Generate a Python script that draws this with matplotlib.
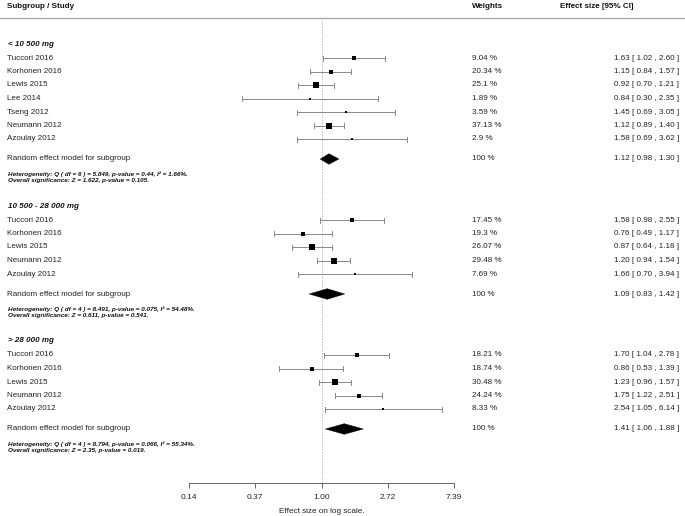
import numpy as np
import matplotlib
matplotlib.use("Agg")
import matplotlib.pyplot as plt
from matplotlib.transforms import blended_transform_factory
from matplotlib.patches import Polygon

plt.rcParams['font.family'] = ['Liberation Sans', 'DejaVu Sans']

# ---------------- data ----------------
group_labels = ["< 10 500 mg", "10 500 - 28 000 mg", "> 28 000 mg"]

studies_g1 = ["Tuccori 2016", "Korhonen 2016", "Lewis 2015", "Lee 2014",
              "Tseng 2012", "Neumann 2012", "Azoulay 2012"]
est_g1 = [1.63, 1.15, 0.92, 0.84, 1.45, 1.12, 1.58]
lo_g1 = [1.02, 0.84, 0.70, 0.30, 0.69, 0.89, 0.69]
hi_g1 = [2.60, 1.57, 1.21, 2.35, 3.05, 1.40, 3.62]
w_g1 = [9.04, 20.34, 25.1, 1.89, 3.59, 37.13, 2.9]

studies_g2 = ["Tuccori 2016", "Korhonen 2016", "Lewis 2015", "Neumann 2012", "Azoulay 2012"]
est_g2 = [1.58, 0.76, 0.87, 1.20, 1.66]
lo_g2 = [0.98, 0.49, 0.64, 0.94, 0.70]
hi_g2 = [2.55, 1.17, 1.18, 1.54, 3.94]
w_g2 = [17.45, 19.3, 26.07, 29.48, 7.69]

studies_g3 = ["Tuccori 2016", "Korhonen 2016", "Lewis 2015", "Neumann 2012", "Azoulay 2012"]
est_g3 = [1.70, 0.86, 1.23, 1.75, 2.54]
lo_g3 = [1.04, 0.53, 0.96, 1.22, 1.05]
hi_g3 = [2.78, 1.39, 1.57, 2.51, 6.14]
w_g3 = [18.21, 18.74, 30.48, 24.24, 8.33]

summary_est = [1.12, 1.09, 1.41]
summary_lo = [0.98, 0.83, 1.06]
summary_hi = [1.30, 1.42, 1.88]

het_df = [6, 4, 4]
het_q = ["5.849", "8.491", "8.794"]
het_p = ["0.44", "0.075", "0.066"]
het_i2 = ["1.66", "54.48", "55.34"]
sig_z = ["1.622", "0.611", "2.35"]
sig_p = ["0.105", "0.541", "0.019"]

tick_values = [np.exp(-2), np.exp(-1), 1.0, np.exp(1), np.exp(2)]
tick_labels = ["0.14", "0.37", "1.00", "2.72", "7.39"]

groups = [
    (studies_g1, est_g1, lo_g1, hi_g1, w_g1),
    (studies_g2, est_g2, lo_g2, hi_g2, w_g2),
    (studies_g3, est_g3, lo_g3, hi_g3, w_g3),
]

# ---------------- layout ----------------
W, H = 685, 516
fig = plt.figure(figsize=(W / 100, H / 100), dpi=100)
axis_y = 483
ax = fig.add_axes([189 / W, (H - axis_y) / H, (454 - 189) / W, axis_y / H])
ax.set_xscale('log')
ax.set_xlim(np.exp(-2), np.exp(2))
ax.set_ylim(axis_y, 0)
ax.patch.set_alpha(0)
for s in ['top', 'left', 'right']:
    ax.spines[s].set_visible(False)
ax.spines['bottom'].set_color('#666666')
ax.spines['bottom'].set_linewidth(0.7)
ax.set_yticks([])
ax.set_xticks(tick_values)
ax.set_xticklabels(tick_labels)
ax.xaxis.set_minor_locator(matplotlib.ticker.NullLocator())
ax.tick_params(axis='x', direction='out', length=3.5, width=0.7, color='#666666',
               labelsize=6.0, labelcolor='#222222', pad=4.5)
ax.set_xlabel("Effect size on log scale.", fontsize=5.9, color='#222222', labelpad=5)

tr = blended_transform_factory(fig.transFigure, ax.transData)
txt_kw = dict(fontsize=5.8, color='#222222', va='center', transform=tr)

x_name = 7 / W
x_weight = 472 / W
x_eff = 679 / W

# header
ax.text(x_name, 7, "Subgroup / Study", fontsize=5.8, fontweight='bold', color='#111111',
        va='center', transform=tr)
ax.text(x_weight, 7, "Weights", fontsize=5.8, fontweight='bold', color='#111111',
        va='center', transform=tr)
ax.text(560 / W, 7, "Effect size [95% CI]", fontsize=5.8, fontweight='bold', color='#111111',
        va='center', transform=tr)
ax.plot([0, 1], [18, 18], color='#aaaaaa', lw=1.0, transform=tr, clip_on=False)

# reference line
ax.vlines(1.0, 20, axis_y, colors='#bbbbbb', linestyles=(0, (2, 1.5)), lw=0.6, zorder=0)

y = 44
for gi, (names, est, lo, hi, w) in enumerate(groups):
    ax.text(x_name + 1 / W, y, group_labels[gi], fontsize=5.8, fontweight='bold',
            fontstyle='italic', color='#111111', va='center', transform=tr)
    y += 14
    for j in range(len(names)):
        ax.plot([lo[j], hi[j]], [y, y], color='#888888', lw=0.7, clip_on=False)
        ax.plot([lo[j], lo[j]], [y - 2.5, y + 2.5], color='#888888', lw=0.7, clip_on=False)
        ax.plot([hi[j], hi[j]], [y - 2.5, y + 2.5], color='#888888', lw=0.7, clip_on=False)
        side_px = max(2.0, np.sqrt(w[j]))
        ax.plot(est[j], y, marker='s', ms=side_px * 0.72, color='black', mew=0,
                zorder=3, clip_on=False)
        ax.text(x_name, y, names[j], **txt_kw)
        ax.text(x_weight, y, f"{w[j]:g} %", **txt_kw)
        ax.text(x_eff, y, f"{est[j]:.2f} [ {lo[j]:.2f} , {hi[j]:.2f} ]", ha='right', **txt_kw)
        y += 13.5
    y += 20 - 13.5
    d = Polygon([[summary_lo[gi], y], [summary_est[gi], y - 5.3],
                 [summary_hi[gi], y], [summary_est[gi], y + 5.3]],
                closed=True, facecolor='black', edgecolor='black', lw=0.3, zorder=3)
    ax.add_patch(d)
    ax.text(x_name, y, "Random effect model for subgroup", **txt_kw)
    ax.text(x_weight, y, "100 %", **txt_kw)
    ax.text(x_eff, y, f"{summary_est[gi]:.2f} [ {summary_lo[gi]:.2f} , {summary_hi[gi]:.2f} ]",
            ha='right', **txt_kw)
    y += 15
    ax.text(x_name + 1 / W, y,
            f"Heterogeneity: Q ( df = {het_df[gi]} ) = {het_q[gi]}, p-value = {het_p[gi]}, I\u00b2 = {het_i2[gi]}%.",
            fontsize=4.6, fontweight='bold', fontstyle='italic', color='#111111',
            va='center', transform=tr)
    y += 6.5
    ax.text(x_name + 1 / W, y,
            f"Overall significance: Z = {sig_z[gi]}, p-value = {sig_p[gi]}.",
            fontsize=4.6, fontweight='bold', fontstyle='italic', color='#111111',
            va='center', transform=tr)
    y += 25.5

fig.savefig("out.png", dpi=100)
